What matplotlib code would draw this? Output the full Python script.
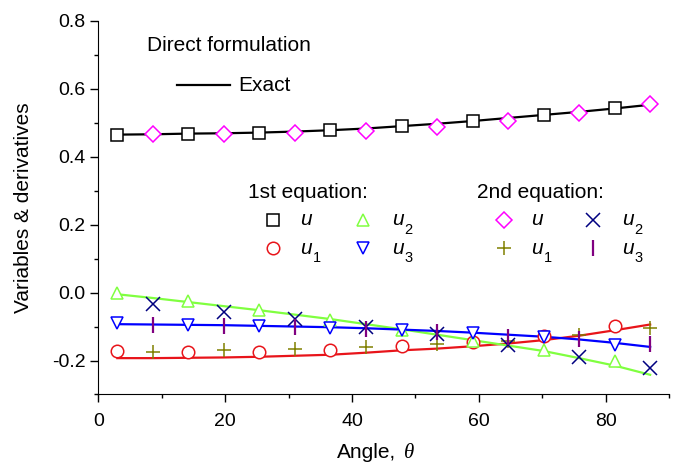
import matplotlib
matplotlib.use("Agg")
import matplotlib.pyplot as plt
from matplotlib.ticker import MultipleLocator, FormatStrFormatter

plt.rcParams['font.family'] = ['Liberation Sans', 'DejaVu Sans']
plt.rcParams['axes.unicode_minus'] = False

# angles (deg) of the grid; 1st equation uses even nodes, 2nd equation odd nodes
theta = [3, 8.6, 14.2, 19.8, 25.4, 31, 36.6, 42.2, 47.8, 53.4, 59, 64.6, 70.2, 75.8, 81.4, 87]
theta_1 = theta[0::2]
theta_2 = theta[1::2]

# exact solution
u_exact = [0.465, 0.466, 0.468, 0.469, 0.471, 0.474, 0.478, 0.483,
           0.490, 0.497, 0.505, 0.514, 0.523, 0.532, 0.542, 0.553]
u1_exact = [-0.193, -0.193, -0.192, -0.191, -0.189, -0.186, -0.183, -0.177,
            -0.170, -0.165, -0.158, -0.150, -0.140, -0.127, -0.111, -0.094]
u2_exact = [-0.005, -0.016, -0.028, -0.040, -0.052, -0.065, -0.078, -0.093,
            -0.108, -0.124, -0.140, -0.156, -0.172, -0.193, -0.215, -0.242]
u3_exact = [-0.093, -0.094, -0.095, -0.096, -0.098, -0.100, -0.102, -0.105,
            -0.109, -0.113, -0.118, -0.124, -0.130, -0.138, -0.148, -0.160]

# direct formulation, 1st equation
eq1_u = [0.465, 0.468, 0.471, 0.480, 0.491, 0.505, 0.524, 0.542]
eq1_u1 = [-0.172, -0.176, -0.174, -0.168, -0.158, -0.145, -0.128, -0.098]
eq1_u2 = [-0.001, -0.025, -0.052, -0.080, -0.110, -0.143, -0.170, -0.201]
eq1_u3 = [-0.091, -0.096, -0.099, -0.103, -0.111, -0.118, -0.131, -0.153]

# direct formulation, 2nd equation
eq2_u = [0.467, 0.467, 0.470, 0.475, 0.488, 0.505, 0.529, 0.554]
eq2_u1 = [-0.175, -0.170, -0.167, -0.160, -0.152, -0.142, -0.126, -0.103]
eq2_u2 = [-0.034, -0.057, -0.077, -0.101, -0.121, -0.155, -0.191, -0.221]
eq2_u3 = [-0.096, -0.098, -0.102, -0.106, -0.116, -0.131, -0.138, -0.150]

BLACK, RED, GREEN, BLUE = 'black', '#e8141a', '#80ff40', '#0000ff'
MAGENTA, OLIVE, NAVY, PURPLE = '#ff00ff', '#808000', '#000080', '#800080'

# marker styles shared by the curves and the key
open_mk = dict(linestyle='none', markeredgewidth=1.1, markerfacecolor='white')
styles = {
    'sq': dict(marker='s', markersize=8, markeredgecolor=BLACK, **open_mk),
    'ci': dict(marker='o', markersize=9, markeredgecolor=RED, **open_mk),
    'up': dict(marker='^', markersize=9, markeredgecolor=GREEN, **open_mk),
    'dn': dict(marker='v', markersize=9, markeredgecolor=BLUE, **open_mk),
    'di': dict(marker='D', markersize=8, markeredgecolor=MAGENTA, **open_mk),
    'pl': dict(marker='+', markersize=10, color=OLIVE, linestyle='none', markeredgewidth=1.1),
    'cr': dict(marker='x', markersize=10, color=NAVY, linestyle='none', markeredgewidth=1.1),
    'vb': dict(marker='|', markersize=12, color=PURPLE, linestyle='none', markeredgewidth=1.6),
}

fig = plt.figure(figsize=(6.78, 4.63), dpi=100)
ax = fig.add_axes([0.145, 0.148, 0.842, 0.807])

ax.plot(theta, u_exact, color=BLACK, lw=1.6)
ax.plot(theta, u1_exact, color=RED, lw=1.6)
ax.plot(theta, u2_exact, color=GREEN, lw=1.6)
ax.plot(theta, u3_exact, color=BLUE, lw=1.6)

ax.plot(theta_1, eq1_u, **styles['sq'])
ax.plot(theta_1, eq1_u1, **styles['ci'])
ax.plot(theta_1, eq1_u2, **styles['up'])
ax.plot(theta_1, eq1_u3, **styles['dn'])
ax.plot(theta_2, eq2_u, **styles['di'])
ax.plot(theta_2, eq2_u1, **styles['pl'])
ax.plot(theta_2, eq2_u2, **styles['cr'])
ax.plot(theta_2, eq2_u3, **styles['vb'])

ax.set_xlim(0, 90)
ax.set_ylim(-0.3, 0.8)
ax.xaxis.set_major_locator(MultipleLocator(20))
ax.xaxis.set_minor_locator(MultipleLocator(10))
ax.yaxis.set_major_locator(MultipleLocator(0.2))
ax.yaxis.set_minor_locator(MultipleLocator(0.1))
ax.yaxis.set_major_formatter(FormatStrFormatter('%.1f'))
ax.spines['top'].set_visible(False)
ax.spines['right'].set_visible(False)
ax.tick_params(which='major', direction='out', length=5.5, width=1, labelsize=14)
ax.tick_params(axis='x', which='major', pad=8)
ax.tick_params(which='minor', direction='out', length=3, width=1)
ax.set_ylabel('Variables & derivatives', fontsize=15, labelpad=14)

tr = ax.transAxes
fs = 15

# x label: sans text followed by a serif italic theta
ax.text(0.418, -0.170, 'Angle,', transform=tr, fontsize=fs, va='baseline')
ax.text(0.535, -0.170, '\u03b8', transform=tr, fontsize=fs, va='baseline',
        family='Liberation Serif', style='italic')


def var_label(x, y, sub=None):
    ax.text(x, y, 'u', transform=tr, fontsize=fs, style='italic', va='center')
    if sub is not None:
        ax.text(x + 0.022, y - 0.027, sub, transform=tr, fontsize=10.5, va='center')


# hand-placed key
ax.text(0.085, 0.935, 'Direct formulation', transform=tr, fontsize=fs, va='center')
ax.plot([0.138, 0.231], [0.828, 0.828], color=BLACK, lw=1.6, transform=tr)
ax.text(0.245, 0.828, 'Exact', transform=tr, fontsize=fs, va='center')

ax.text(0.262, 0.541, '1st equation:', transform=tr, fontsize=fs, va='center')
ax.plot(0.306, 0.467, transform=tr, **styles['sq'])
var_label(0.353, 0.467)
ax.plot(0.306, 0.392, transform=tr, **styles['ci'])
var_label(0.353, 0.392, '1')
ax.plot(0.464, 0.467, transform=tr, **styles['up'])
var_label(0.514, 0.467, '2')
ax.plot(0.464, 0.392, transform=tr, **styles['dn'])
var_label(0.514, 0.392, '3')

ax.text(0.663, 0.541, '2nd equation:', transform=tr, fontsize=fs, va='center')
ax.plot(0.711, 0.467, transform=tr, **styles['di'])
var_label(0.759, 0.467)
ax.plot(0.711, 0.392, transform=tr, **styles['pl'])
var_label(0.759, 0.392, '1')
ax.plot(0.866, 0.467, transform=tr, **styles['cr'])
var_label(0.917, 0.467, '2')
ax.plot(0.866, 0.392, transform=tr, **styles['vb'])
var_label(0.917, 0.392, '3')

fig.savefig('out.png', dpi=100)
